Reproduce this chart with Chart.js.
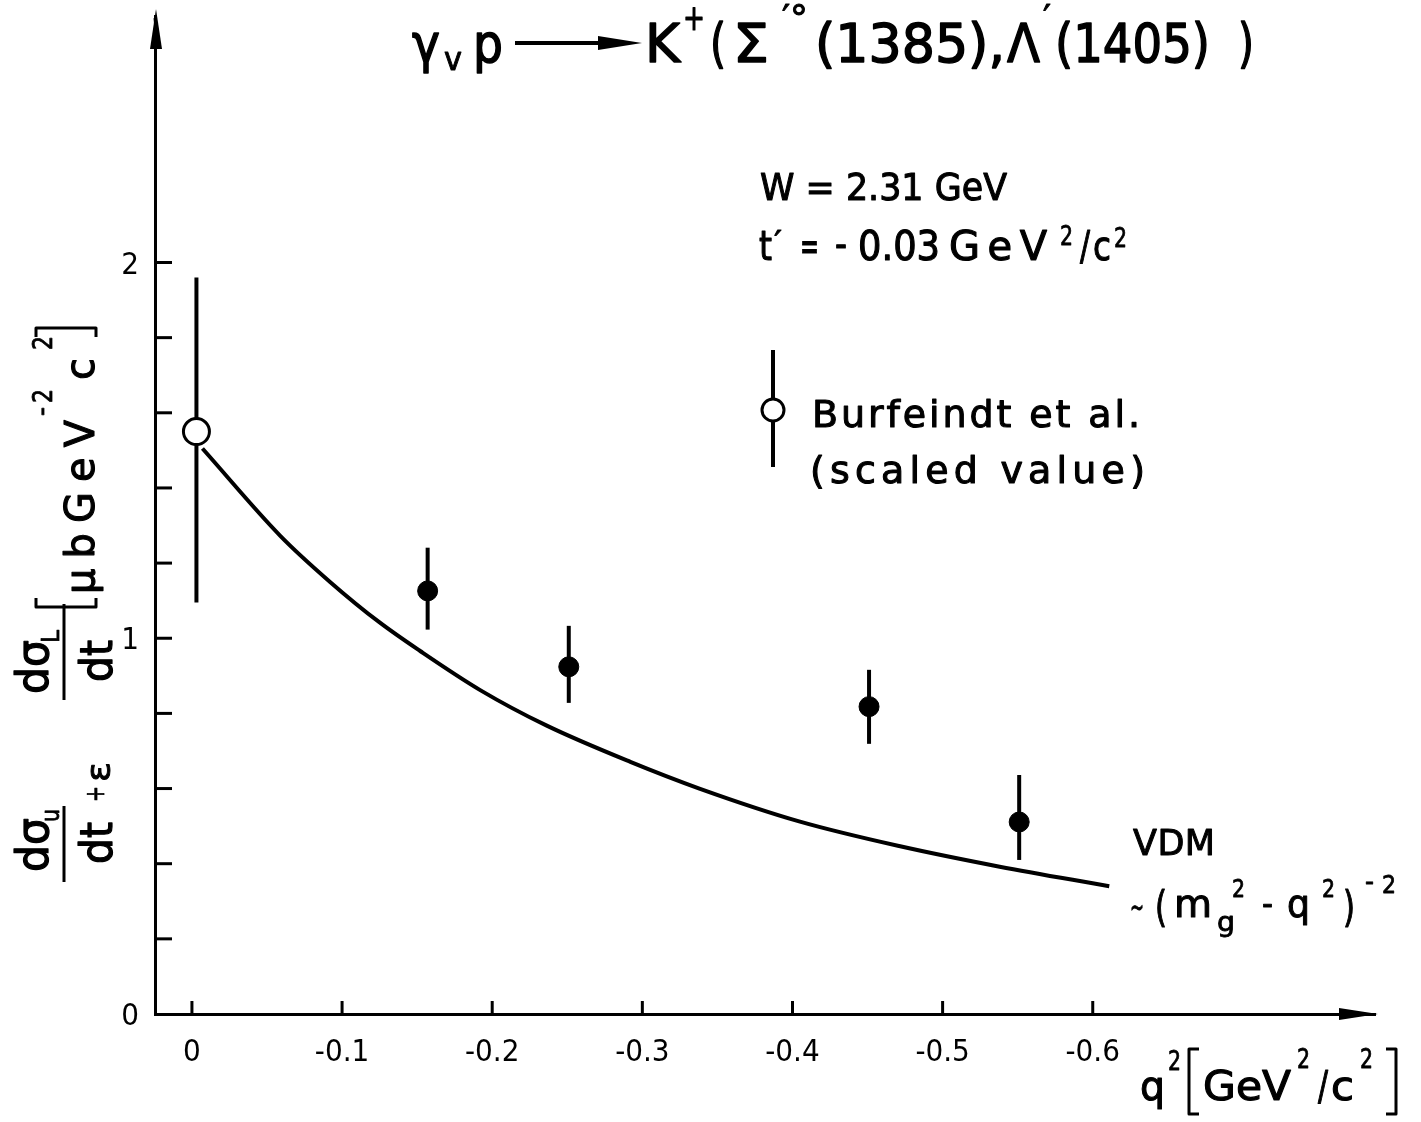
<!DOCTYPE html>
<html>
<head>
<meta charset="utf-8">
<script src="https://cdn.jsdelivr.net/npm/chart.js@4.4.0/dist/chart.umd.min.js"></script>
<style>
  html, body { margin: 0; padding: 0; background: #ffffff; }
  #wrap { width: 1421px; height: 1122px; position: relative; }
</style>
</head>
<body>
<div id="wrap"><canvas id="c" width="1421" height="1122"></canvas></div>
<script>
// ---------------- data ----------------
const xTickValues = [0, -0.1, -0.2, -0.3, -0.4, -0.5, -0.6];
const xTickLabels = ['0', '-0.1', '-0.2', '-0.3', '-0.4', '-0.5', '-0.6'];
const yTickValues = [0, 0.2, 0.4, 0.6, 0.8, 1.0, 1.2, 1.4, 1.6, 1.8, 2.0];
const yTickLabels = ['0', '', '', '', '', '1', '', '', '', '', '2'];

// VDM curve ~ (m^2 - q^2)^-2
const curveQ2  = [-0.007, -0.059, -0.092, -0.125, -0.152, -0.192, -0.236, -0.292, -0.338, -0.405, -0.471, -0.538, -0.611];
const curveVal = [1.505, 1.272, 1.150, 1.042, 0.966, 0.862, 0.768, 0.671, 0.600, 0.512, 0.447, 0.392, 0.340];

// Burfeindt et al. (scaled value), open circle
const burfQ2  = [-0.003];
const burfVal = [1.550];
const burfLo  = [1.095];
const burfHi  = [1.960];

// this experiment, filled circles
const dataQ2  = [-0.157, -0.251, -0.451, -0.551];
const dataVal = [1.126, 0.924, 0.818, 0.511];
const dataLo  = [1.023, 0.828, 0.719, 0.410];
const dataHi  = [1.241, 1.033, 0.916, 0.636];

const X_MIN = -0.788, X_MAX = 0.0246, Y_MIN = 0, Y_MAX = 2.656;

const FONT = "'DejaVu Sans', 'Liberation Sans', sans-serif";
const TICKFONT = "'DejaVu Sans Condensed', 'Liberation Sans Narrow', 'DejaVu Sans', sans-serif";

// ---------------- helpers ----------------
function paint(ctx, s, x, y, size) {
  ctx.fillText(s, x, y);
  ctx.lineWidth = Math.max(0.8, size * 0.028);
  ctx.strokeText(s, x, y);
}
// draw str starting at x on baseline y, made to span `width` px
// spacing=true: extra letter spacing; otherwise horizontal scaling
function fitText(ctx, str, x, y, size, width, spacing) {
  ctx.font = size + 'px ' + FONT;
  ctx.lineJoin = 'round';
  const chars = Array.from(str);
  if (!width) { paint(ctx, str, x, y, size); return; }
  const nat = ctx.measureText(str).width;
  if (!spacing || nat >= width || chars.length < 2) {
    ctx.save(); ctx.translate(x, y); ctx.scale(width / nat, 1); paint(ctx, str, 0, 0, size); ctx.restore();
    return;
  }
  const extra = (width - nat) / (chars.length - 1);
  let cx = x;
  for (const c of chars) { paint(ctx, c, cx, y, size); cx += ctx.measureText(c).width + extra; }
}

function errBars(chart, q, lo, hi) {
  const ctx = chart.ctx, xs = chart.scales.x, ys = chart.scales.y;
  ctx.save();
  ctx.strokeStyle = '#000'; ctx.lineWidth = 4; ctx.lineCap = 'butt';
  for (let i = 0; i < q.length; i++) {
    const px = xs.getPixelForValue(q[i]);
    ctx.beginPath();
    ctx.moveTo(px, ys.getPixelForValue(lo[i]));
    ctx.lineTo(px, ys.getPixelForValue(hi[i]));
    ctx.stroke();
  }
  ctx.restore();
}

const errorBarPlugin = {
  id: 'errorBars',
  beforeDatasetsDraw(chart) {
    errBars(chart, burfQ2, burfLo, burfHi);
    errBars(chart, dataQ2, dataLo, dataHi);
  }
};

const decorPlugin = {
  id: 'decor',
  afterDraw(chart) {
    const ctx = chart.ctx, xs = chart.scales.x, ys = chart.scales.y, a = chart.chartArea;
    ctx.save();
    ctx.fillStyle = '#000'; ctx.strokeStyle = '#000';
    ctx.textBaseline = 'alphabetic'; ctx.textAlign = 'left';

    // inward tick marks
    ctx.lineWidth = 3;
    xTickValues.forEach(v => {
      const px = xs.getPixelForValue(v);
      ctx.beginPath(); ctx.moveTo(px, a.bottom); ctx.lineTo(px, a.bottom - 13); ctx.stroke();
    });
    yTickValues.forEach(v => {
      if (v === 0) return;
      const py = ys.getPixelForValue(v);
      ctx.beginPath(); ctx.moveTo(a.left, py); ctx.lineTo(a.left + 17, py); ctx.stroke();
    });

    // axis arrows (the vertical one reaches to the top of the figure)
    ctx.beginPath();
    ctx.moveTo(a.right + 3, a.bottom); ctx.lineTo(a.right - 36, a.bottom - 6); ctx.lineTo(a.right - 36, a.bottom + 6);
    ctx.closePath(); ctx.fill();
    const yTip = 9;
    ctx.lineWidth = 3;
    ctx.beginPath(); ctx.moveTo(a.left, a.top + 2); ctx.lineTo(a.left + 1, yTip + 20); ctx.stroke();
    ctx.beginPath();
    ctx.moveTo(a.left + 1, yTip); ctx.lineTo(a.left - 5, yTip + 40); ctx.lineTo(a.left + 7, yTip + 40);
    ctx.closePath(); ctx.fill();

    // ---- title ----
    fitText(ctx, 'γ', 412, 62, 54, 28);
    fitText(ctx, 'v', 444, 70, 32, 18);
    fitText(ctx, 'p', 473, 62, 54, 30);
    ctx.lineWidth = 4;
    ctx.beginPath(); ctx.moveTo(515, 43); ctx.lineTo(605, 43); ctx.stroke();
    ctx.beginPath(); ctx.moveTo(598, 36); ctx.lineTo(642, 43); ctx.lineTo(598, 50); ctx.closePath(); ctx.fill();
    fitText(ctx, 'K', 645, 62, 54, 35);
    fitText(ctx, '+', 683, 30, 36, 22);
    fitText(ctx, '(', 710, 62, 54, 16);
    fitText(ctx, 'Σ', 733, 62, 54, 36);
    fitText(ctx, '′°', 782, 30, 36, 26, true);
    fitText(ctx, '(1385),', 815, 62, 54, 190, true);
    fitText(ctx, 'Λ', 1007, 62, 54, 33);
    fitText(ctx, '′', 1043, 30, 36, 8);
    fitText(ctx, '(1405)', 1055, 62, 54, 155, true);
    fitText(ctx, ')', 1238, 62, 54, 16);

    // ---- annotations ----
    fitText(ctx, 'W = 2.31 GeV', 760, 200, 38, 247, true);
    fitText(ctx, 't', 759, 260, 40, 13);
    fitText(ctx, '′', 774, 252, 30, 8);
    fitText(ctx, '=', 800, 260, 40, 19);
    fitText(ctx, '-', 835, 258, 40, 12);
    fitText(ctx, '0.03', 858, 260, 40, 82, true);
    fitText(ctx, 'GeV', 949, 260, 40, 98, true);
    fitText(ctx, '2', 1060, 245, 26, 13);
    fitText(ctx, '/', 1080, 260, 40, 10);
    fitText(ctx, 'c', 1093, 260, 40, 18);
    fitText(ctx, '2', 1114, 247, 26, 13);

    // legend for the open point
    ctx.lineWidth = 4;
    ctx.beginPath(); ctx.moveTo(773, 350); ctx.lineTo(773, 467); ctx.stroke();
    ctx.fillStyle = '#fff'; ctx.lineWidth = 3;
    ctx.beginPath(); ctx.arc(773, 410, 11, 0, Math.PI * 2); ctx.fill(); ctx.stroke();
    ctx.fillStyle = '#000';
    fitText(ctx, 'Burfeindt et al.', 812, 427, 38, 328, true);
    fitText(ctx, '(scaled value)', 810, 483, 38, 335, true);

    // VDM label
    fitText(ctx, 'VDM', 1133, 855, 35, 82, true);
    fitText(ctx, '~', 1130, 917, 30, 14);
    fitText(ctx, '(', 1155, 922, 42, 12);
    fitText(ctx, 'm', 1174, 917, 38, 38);
    fitText(ctx, '2', 1232, 897, 24, 13);
    fitText(ctx, 'g', 1217, 931, 26, 18);
    fitText(ctx, '-', 1262, 915, 34, 11);
    fitText(ctx, 'q', 1287, 917, 38, 23);
    fitText(ctx, '2', 1322, 897, 24, 13);
    fitText(ctx, ')', 1343, 922, 42, 12);
    fitText(ctx, '-', 1365, 890, 26, 9);
    fitText(ctx, '2', 1382, 893, 24, 14);

    // x axis title  q^2 [GeV^2/c^2]
    fitText(ctx, 'q', 1140, 1100, 40, 25);
    fitText(ctx, '2', 1168, 1070, 26, 13);
    ctx.lineWidth = 3;
    ctx.beginPath(); ctx.moveTo(1199, 1049); ctx.lineTo(1189, 1049); ctx.lineTo(1189, 1114); ctx.lineTo(1199, 1114); ctx.stroke();
    fitText(ctx, 'GeV', 1203, 1100, 40, 88);
    fitText(ctx, '2', 1297, 1068, 26, 13);
    fitText(ctx, '/', 1318, 1100, 40, 10);
    fitText(ctx, 'c', 1331, 1100, 40, 23);
    fitText(ctx, '2', 1360, 1068, 26, 13);
    ctx.lineWidth = 3;
    ctx.beginPath(); ctx.moveTo(1386, 1049); ctx.lineTo(1396, 1049); ctx.lineTo(1396, 1114); ctx.lineTo(1386, 1114); ctx.stroke();

    // ---- y axis title (rotated) ----
    ctx.save();
    ctx.rotate(-Math.PI / 2);
    // screen (sx, sy) -> rotated (u=-sy, v=sx)
    const R = (str, sy, sx, size, w, sp) => fitText(ctx, str, -sy, sx, size, w, sp);
    const bar = (sx, sy1, sy2) => { ctx.lineWidth = 3; ctx.beginPath(); ctx.moveTo(-sy1, sx); ctx.lineTo(-sy2, sx); ctx.stroke(); };
    // dir=1: '[' (hooks point up the page, toward the text), dir=-1: ']'
    const brk = (sy, dir) => { ctx.lineWidth = 3; ctx.beginPath(); ctx.moveTo(-sy + 9 * dir, 36); ctx.lineTo(-sy, 36); ctx.lineTo(-sy, 96); ctx.lineTo(-sy + 9 * dir, 96); ctx.stroke(); };
    // first fraction dσu/dt
    R('dσ', 872, 48, 44, 54);
    R('u', 822, 59, 24, 13);
    bar(64, 882, 806);
    R('dt', 864, 112, 44, 42);
    // + ε
    R('+', 802, 104, 26, 16);
    R('ε', 782, 110, 34, 20);
    // second fraction dσL/dt
    R('dσ', 694, 48, 44, 54);
    R('L', 643, 59, 24, 13);
    bar(64, 700, 604);
    R('dt', 682, 112, 44, 42);
    // unit bracket
    brk(607, 1);
    R('μbGeV', 594, 94, 40, 174, true);
    R('-', 416, 50, 26, 9);
    R('2', 403, 52, 26, 14);
    R('c', 380, 94, 40, 22);
    R('2', 350, 52, 26, 14);
    brk(328, -1);
    ctx.restore();

    ctx.restore();
  }
};

// ---------------- chart ----------------
const toPts = (xs, ys) => xs.map((x, i) => ({ x: x, y: ys[i] }));

new Chart(document.getElementById('c'), {
  type: 'scatter',
  data: {
    datasets: [
      {
        label: 'VDM',
        data: toPts(curveQ2, curveVal),
        showLine: true,
        borderColor: '#000',
        borderWidth: 4,
        pointRadius: 0,
        cubicInterpolationMode: 'monotone',
        fill: false
      },
      {
        label: 'Burfeindt et al. (scaled value)',
        data: toPts(burfQ2, burfVal),
        pointRadius: 13,
        pointBackgroundColor: '#fff',
        pointBorderColor: '#000',
        pointBorderWidth: 3
      },
      {
        label: 'data',
        data: toPts(dataQ2, dataVal),
        pointRadius: 10,
        pointBackgroundColor: '#000',
        pointBorderColor: '#000',
        pointBorderWidth: 1
      }
    ]
  },
  options: {
    responsive: false,
    animation: false,
    events: [],
    layout: { padding: { left: 0, right: 46, top: 3, bottom: 0 } },
    plugins: { legend: { display: false }, tooltip: { enabled: false }, title: { display: false } },
    scales: {
      x: {
        type: 'linear',
        reverse: true,
        min: X_MIN, max: X_MAX,
        afterBuildTicks: s => { s.ticks = xTickValues.map(v => ({ value: v })); },
        afterFit: s => { s.height = 108; s.paddingLeft = 0; s.paddingRight = 0; },
        grid: { display: false, drawTicks: false },
        border: { display: true, color: '#000', width: 3 },
        ticks: {
          autoSkip: false, maxRotation: 0, minRotation: 0,
          padding: 20, color: '#000',
          font: { family: TICKFONT, size: 31 },
          callback: (v, i) => xTickLabels[i]
        }
      },
      y: {
        type: 'linear',
        min: Y_MIN, max: Y_MAX,
        afterBuildTicks: s => { s.ticks = yTickValues.map(v => ({ value: v })); },
        afterFit: s => { s.width = 155; s.paddingTop = 0; s.paddingBottom = 0; },
        grid: { display: false, drawTicks: false },
        border: { display: true, color: '#000', width: 3 },
        ticks: {
          autoSkip: false, padding: 16, color: '#000', labelOffset: 3,
          font: { family: TICKFONT, size: 31 },
          callback: (v, i) => yTickLabels[i]
        }
      }
    }
  },
  plugins: [errorBarPlugin, decorPlugin]
});
</script>
</body>
</html>
